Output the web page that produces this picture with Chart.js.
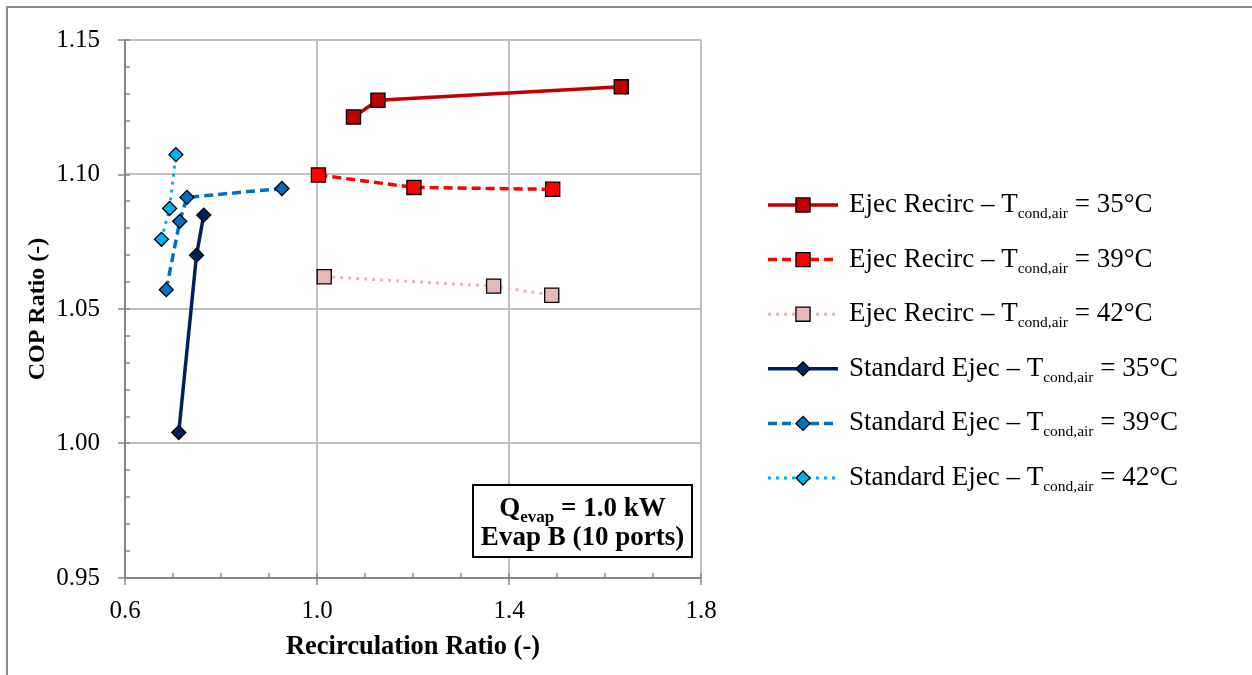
<!DOCTYPE html>
<html lang="en">
<head>
<meta charset="UTF-8">
<title>COP Ratio vs Recirculation Ratio</title>
<script src="https://cdn.jsdelivr.net/npm/chart.js"></script>
<style>
  body { margin: 0; background: #fff; }
  canvas { display: block; }
</style>
</head>
<body>
<canvas id="copChart" width="1252" height="675"></canvas>
<script>
// recirculation ratio (x) and COP ratio (y) for each test series
const recircX35 = [1.076, 1.127, 1.634];
const recircY35 = [1.1214, 1.1276, 1.1326];
const recircX39 = [1.003, 1.202, 1.491];
const recircY39 = [1.0998, 1.0952, 1.0945];
const recircX42 = [1.015, 1.368, 1.489];
const recircY42 = [1.0620, 1.0585, 1.0551];
const stdX35 = [0.712, 0.749, 0.764];
const stdY35 = [1.0041, 1.0700, 1.0849];
const stdX39 = [0.686, 0.714, 0.729, 0.927];
const stdY39 = [1.0572, 1.0826, 1.0915, 1.0948];
const stdX42 = [0.676, 0.693, 0.706];
const stdY42 = [1.0759, 1.0874, 1.1074];

const seriesNames = ['Ejec Recirc', 'Ejec Recirc', 'Ejec Recirc', 'Standard Ejec', 'Standard Ejec', 'Standard Ejec'];
const seriesTemps = ['35°C', '39°C', '42°C', '35°C', '39°C', '42°C'];
const xTicks = [0.6, 1.0, 1.4, 1.8];
const yTicks = [0.95, 1.00, 1.05, 1.10, 1.15];

const SERIF = '"Liberation Serif", "Times New Roman", serif';
const AXIS_GREY = '#868686';

function pts(xs, ys) {
  return xs.map((x, i) => ({ x: x, y: ys[i] }));
}

function series(i, xs, ys, color, style, dash) {
  const square = style === 'rect';
  return {
    label: seriesNames[i] + ' – Tcond,air = ' + seriesTemps[i],
    data: pts(xs, ys),
    showLine: true,
    borderColor: color,
    backgroundColor: color,
    borderWidth: dash.length && dash[0] < 4 ? 3 : 3.5,
    borderDash: dash,
    pointStyle: style,
    pointRadius: square ? 10 : 7,
    pointBorderColor: '#000',
    pointBorderWidth: 1.3,
    pointBackgroundColor: color
  };
}

const datasets = [
  series(0, recircX35, recircY35, '#C00000', 'rect', []),
  series(1, recircX39, recircY39, '#FF0000', 'rect', [9, 5]),
  series(2, recircX42, recircY42, '#E6B9B8', 'rect', [3, 5]),
  series(3, stdX35, stdY35, '#002060', 'rectRot', []),
  series(4, stdX39, stdY39, '#0070C0', 'rectRot', [9, 5]),
  series(5, stdX42, stdY42, '#00B0F0', 'rectRot', [3, 5])
];

// white page with a grey frame on the left and top edges
const framePlugin = {
  id: 'frame',
  beforeDraw(chart) {
    const ctx = chart.ctx;
    ctx.save();
    ctx.fillStyle = '#fff';
    ctx.fillRect(0, 0, chart.width, chart.height);
    ctx.strokeStyle = '#8c8c8c';
    ctx.lineWidth = 2;
    ctx.beginPath();
    ctx.moveTo(7, chart.height);
    ctx.lineTo(7, 7);
    ctx.lineTo(chart.width, 7);
    ctx.stroke();
    ctx.restore();
  }
};

// major ticks cross the axis, minor ticks point inward
const minorTicksPlugin = {
  id: 'minorTicks',
  afterDraw(chart) {
    const { ctx, scales: { x, y } } = chart;
    ctx.save();
    ctx.strokeStyle = AXIS_GREY;
    ctx.lineWidth = 1.5;
    ctx.beginPath();
    for (let i = 0; i <= 20; i++) {
      const py = Math.round(y.getPixelForValue(0.95 + i * 0.01));
      const x0 = x.left - (i % 5 === 0 ? 7 : 0);
      ctx.moveTo(x0, py);
      ctx.lineTo(x.left + 5, py);
    }
    for (let i = 0; i <= 12; i++) {
      const px = Math.round(x.getPixelForValue(0.6 + i * 0.1));
      const y1 = y.bottom + (i % 4 === 0 ? 7 : 0);
      ctx.moveTo(px, y.bottom - 5);
      ctx.lineTo(px, y1);
    }
    ctx.stroke();
    ctx.restore();
  }
};

// draws "main" + subscript + "tail" starting at x, returns end x
function subText(ctx, x, y, main, sub, tail, size, subSize, weight) {
  ctx.font = weight + ' ' + size + 'px ' + SERIF;
  ctx.fillText(main, x, y);
  x += ctx.measureText(main).width;
  ctx.font = weight + ' ' + subSize + 'px ' + SERIF;
  ctx.fillText(sub, x, y + 6);
  x += ctx.measureText(sub).width;
  ctx.font = weight + ' ' + size + 'px ' + SERIF;
  ctx.fillText(tail, x, y);
  return x + ctx.measureText(tail).width;
}

function subTextWidth(ctx, main, sub, tail, size, subSize, weight) {
  ctx.font = weight + ' ' + size + 'px ' + SERIF;
  const w = ctx.measureText(main).width + ctx.measureText(tail).width;
  ctx.font = weight + ' ' + subSize + 'px ' + SERIF;
  return w + ctx.measureText(sub).width;
}

const legendPlugin = {
  id: 'sideLegend',
  afterDraw(chart) {
    const ctx = chart.ctx;
    ctx.save();
    chart.data.datasets.forEach((ds, i) => {
      const cy = 205 + i * 54.6;
      ctx.strokeStyle = ds.borderColor;
      ctx.lineWidth = ds.borderWidth;
      ctx.setLineDash(ds.borderDash);
      ctx.beginPath();
      ctx.moveTo(768, cy);
      ctx.lineTo(838, cy);
      ctx.stroke();
      ctx.setLineDash([]);
      ctx.fillStyle = ds.pointBackgroundColor;
      ctx.strokeStyle = '#000';
      ctx.lineWidth = ds.pointBorderWidth;
      Chart.helpers.drawPoint(ctx, {
        pointStyle: ds.pointStyle,
        rotation: 0,
        radius: ds.pointRadius,
        borderWidth: ds.pointBorderWidth
      }, 803, cy);
      ctx.fillStyle = '#000';
      ctx.textBaseline = 'alphabetic';
      ctx.textAlign = 'left';
      subText(ctx, 849, cy + 7, seriesNames[i] + ' – T', 'cond,air', ' = ' + seriesTemps[i], 27, 15.5, 'normal');
    });
    ctx.restore();
  }
};

// boxed note inside the plot area
const notePlugin = {
  id: 'note',
  afterDraw(chart) {
    const ctx = chart.ctx;
    ctx.save();
    ctx.strokeStyle = '#000';
    ctx.lineWidth = 2;
    ctx.fillStyle = '#fff';
    ctx.fillRect(473, 485, 219, 72);
    ctx.strokeRect(473, 485, 219, 72);
    ctx.fillStyle = '#000';
    ctx.textBaseline = 'alphabetic';
    const cx = 582.5;
    const w1 = subTextWidth(ctx, 'Q', 'evap', ' = 1.0 kW', 27, 17, 'bold');
    subText(ctx, cx - w1 / 2, 516, 'Q', 'evap', ' = 1.0 kW', 27, 17, 'bold');
    ctx.font = 'bold 27px ' + SERIF;
    ctx.textAlign = 'center';
    ctx.fillText('Evap B (10 ports)', cx, 545);
    ctx.restore();
  }
};

new Chart(document.getElementById('copChart'), {
  type: 'scatter',
  data: { datasets: datasets },
  options: {
    responsive: false,
    animation: false,
    layout: { padding: { left: 0, top: 40, right: 551, bottom: 0 } },
    plugins: { legend: { display: false }, tooltip: { enabled: false } },
    scales: {
      x: {
        type: 'linear',
        min: 0.6,
        max: 1.8,
        afterBuildTicks: s => { s.ticks = xTicks.map(v => ({ value: v })); },
        afterFit: s => { s.height = 97; },
        ticks: {
          padding: 18,
          color: '#000',
          font: { family: SERIF, size: 25, lineHeight: 1.2 },
          callback: v => v.toFixed(1)
        },
        grid: { color: '#BFBFBF', lineWidth: 2, drawTicks: false },
        border: { color: AXIS_GREY, width: 2 },
        title: {
          display: true,
          text: 'Recirculation Ratio (-)',
          color: '#000',
          font: { family: SERIF, size: 26.5, weight: 'bold', lineHeight: 1.2 },
          padding: { top: 0, bottom: 12 }
        }
      },
      y: {
        type: 'linear',
        min: 0.95,
        max: 1.15,
        afterBuildTicks: s => { s.ticks = yTicks.map(v => ({ value: v })); },
        afterFit: s => { s.width = 125; },
        ticks: {
          padding: 25,
          color: '#000',
          font: { family: SERIF, size: 25, lineHeight: 1.2 },
          callback: v => v.toFixed(2)
        },
        grid: { color: '#BFBFBF', lineWidth: 2, drawTicks: false },
        border: { color: AXIS_GREY, width: 2 },
        title: {
          display: true,
          text: 'COP Ratio (-)',
          color: '#000',
          font: { family: SERIF, size: 24, weight: 'bold', lineHeight: 1.2 },
          padding: { top: 23, bottom: 0 }
        }
      }
    }
  },
  plugins: [framePlugin, minorTicksPlugin, legendPlugin, notePlugin]
});
</script>
</body>
</html>
